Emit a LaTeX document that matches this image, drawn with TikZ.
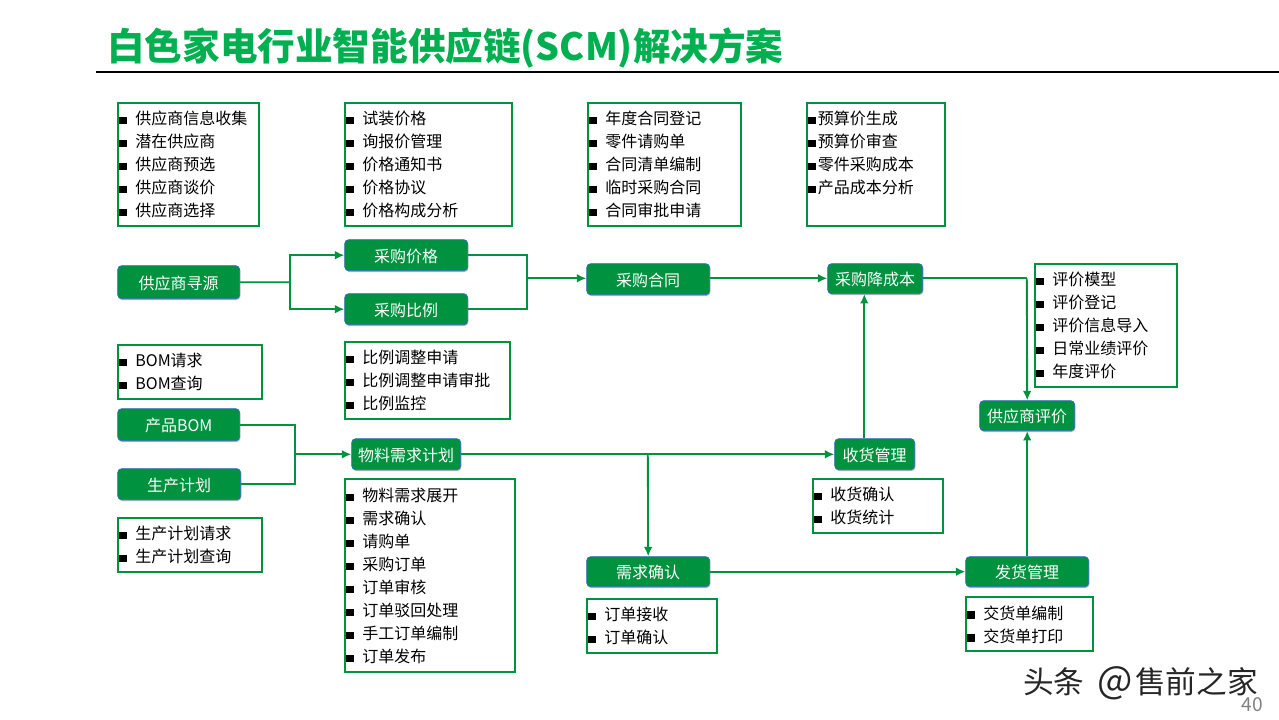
\documentclass[tikz,border=0pt]{standalone}
\usepackage{fontspec}
\setmainfont{Noto Sans CJK SC}
\usetikzlibrary{arrows.meta,shadows}
\definecolor{gfill}{RGB}{0,146,63}
\definecolor{gedge}{RGB}{46,110,190}
\definecolor{titlegreen}{RGB}{0,176,80}
\newcommand\mystrut{\rule[-4.06pt]{0pt}{17.25pt}}
\newcommand\li[1]{\par\noindent\mystrut\rule[0.4pt]{5.6pt}{5.6pt}\hspace{6.4pt}#1}
\newcommand\lit[1]{\par\noindent\mystrut\rule[0.4pt]{5.6pt}{5.6pt}\hspace{1.6pt}#1}
\newcommand\lib{\par\noindent\mystrut}
\tikzset{
  x=0.75pt,y=-0.75pt,
  flowbox/.style 2 args={anchor=north west,draw=gedge,fill=gfill,line width=0.6pt,rounded corners=3pt,
    text=white,font=\fontsize{12}{14}\selectfont,inner sep=0pt,align=center,text height=11.2pt,text depth=0.8pt,
    minimum width=#1*0.75pt,minimum height=#2*0.75pt,
    drop shadow={shadow xshift=0.5pt,shadow yshift=-1pt,opacity=0.3,fill=black}},
  listbox/.style 2 args={anchor=north west,draw=gfill,fill=white,line width=1.5pt,
    text=black,font=\fontsize{12}{17.25}\selectfont,inner xsep=0.8pt,inner ysep=2.6pt,
    execute at begin node={\vspace*{-3.75pt}},
    text width=#1*0.75pt-1.6pt,minimum height=#2*0.75pt},
  link/.style={draw=gfill,line width=1.4pt},
  arrowlink/.style={link,-{Latex[length=7pt,width=6.5pt]}},
}
\begin{document}
\begin{tikzpicture}
\useasboundingbox (0.7,0.7) rectangle (1279.7,720.7);
\node[anchor=west,text=titlegreen,font=\fontsize{28.2}{30}\selectfont\bfseries,inner sep=0pt] (title) at (107.7,48.7) {白色家电行业智能供应链(SCM)解决方案};
\coordinate (ruleA) at (97,72.7);
\coordinate (ruleB) at (1279.7,72.7);
\draw[black,line width=0.9pt] (ruleA) -- (ruleB);

% list boxes
\node[listbox={141}{122}] (l1) at (118,103) {\li{供应商信息收集}\li{潜在供应商}\li{供应商预选}\li{供应商谈价}\li{供应商选择}};
\node[listbox={167}{122}] (l2) at (345,103) {\li{试装价格}\li{询报价管理}\li{价格通知书}\li{价格协议}\li{价格构成分析}};
\node[listbox={153}{122}] (l3) at (588,103) {\li{年度合同登记}\li{零件请购单}\li{合同清单编制}\li{临时采购合同}\li{合同审批申请}};
\node[listbox={138}{122}] (l4) at (807,103) {\lit{预算价生成}\lit{预算价审查}\lit{零件采购成本}\lit{产品成本分析}\lib};
\node[listbox={142}{122}] (l5) at (1035,264) {\li{评价模型}\li{评价登记}\li{评价信息导入}\li{日常业绩评价}\li{年度评价}};
\node[listbox={144}{53}] (l6) at (118,345) {\li{BOM请求}\li{BOM查询}};
\node[listbox={165}{76}] (l7) at (345,342) {\li{比例调整申请}\li{比例调整申请审批}\li{比例监控}};
\node[listbox={144}{53}] (l8) at (118,518) {\li{生产计划请求}\li{生产计划查询}};
\node[listbox={170}{193}] (l9) at (345,479) {\li{物料需求展开}\li{需求确认}\li{请购单}\li{采购订单}\li{订单审核}\li{订单驳回处理}\li{手工订单编制}\li{订单发布}};
\node[listbox={130}{53}] (l10) at (813,479) {\li{收货确认}\li{收货统计}};
\node[listbox={130}{53}] (l11) at (587,599) {\li{订单接收}\li{订单确认}};
\node[listbox={127}{54}] (l12) at (966,597) {\li{交货单编制}\li{交货单打印}};

% flow nodes
\node[flowbox={122}{33}] (src) at (118,266) {供应商寻源};
\node[flowbox={123}{31}] (price) at (345,240) {采购价格};
\node[flowbox={123}{31}] (ratio) at (345,294) {采购比例};
\node[flowbox={123}{31}] (contract) at (587,264) {采购合同};
\node[flowbox={95}{30}] (cost) at (828,264) {采购降成本};
\node[flowbox={95}{30}] (eval) at (980,401) {供应商评价};
\node[flowbox={122}{32}] (bom) at (118,409) {产品BOM};
\node[flowbox={123}{31}] (plan) at (118,469) {生产计划};
\node[flowbox={109}{31}] (mrp) at (352,439) {物料需求计划};
\node[flowbox={80}{31}] (recv) at (835,439) {收货管理};
\node[flowbox={123}{30}] (demand) at (587,557) {需求确认};
\node[flowbox={123}{30}] (ship) at (966,557) {发货管理};

% junctions
\coordinate (j1) at (291,283);
\coordinate (j2) at (528,279);
\coordinate (j3) at (296,455);
\coordinate (j4) at (648.5,455);
\coordinate (r1) at (865,439);
\coordinate (j5) at (1027.5,279);

% connectors
\draw[link] (src.east) -- (j1);
\draw[arrowlink] (j1) |- (price.west);
\draw[arrowlink] (j1) |- (ratio.west);
\draw[link] (price.east) -| (j2);
\draw[link] (ratio.east) -| (j2);
\draw[arrowlink] (j2) -- (contract.west |- j2);
\draw[arrowlink] (j2 -| contract.east) -- (j2 -| cost.west);
\draw[link] (j2 -| cost.east) -- (j5);
\draw[arrowlink] (j5) -- (eval.north);
\draw[link] (bom.east) -| (j3);
\draw[link] (plan.east) -| (j3);
\draw[arrowlink] (j3) -- (j3 -| mrp.west);
\draw[arrowlink] (j3 -| mrp.east) -- (j3 -| recv.west);
\draw[arrowlink] (j4) -- (demand.north);
\draw[arrowlink] (r1) -- (r1 |- cost.south);
\draw[arrowlink] (demand.east) -- (ship.west);
\draw[arrowlink] (ship.north -| eval.south) -- (eval.south);

% watermark and page number
\node[anchor=east,text=black!85,font=\fontsize{23}{26}\selectfont,inner sep=0pt] (mark) at (1258.7,683.7) {头条\hspace{10pt}{\fontsize{28}{28}\selectfont @}\hspace{1.5pt}售前之家};
\node[anchor=east,text=black!50,font=\fontsize{14.4}{16}\selectfont,inner sep=0pt] (page) at (1263.7,705.7) {40};
\end{tikzpicture}
\end{document}
